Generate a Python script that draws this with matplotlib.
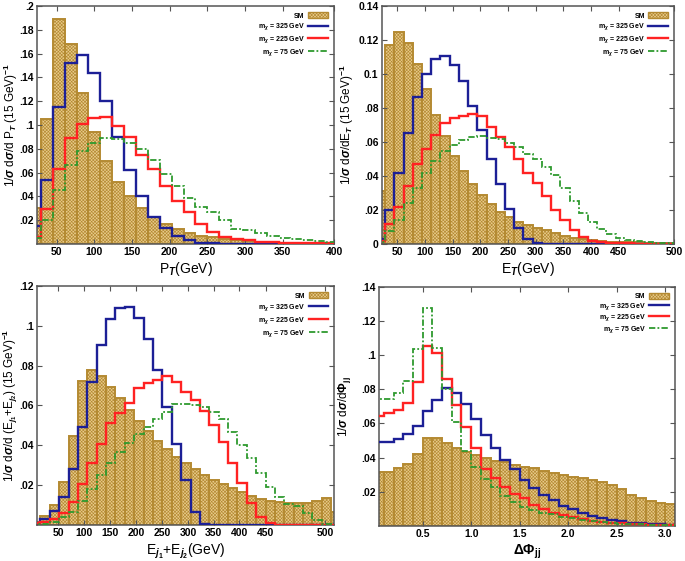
import matplotlib

matplotlib.use("Agg")
import matplotlib.pyplot as plt
import numpy as np
from matplotlib.lines import Line2D
from matplotlib.patches import Patch

# ---- data ----
series_labels = ["SM", r"m$_{\chi}$ = 325 GeV", r"m$_{\chi}$ = 225 GeV", r"m$_{\chi}$ = 75 GeV"]

# missing transverse momentum P_T, 15 GeV bins
pt_edges = np.arange(15, 420, 15)
pt_sm = [.030, .105, .189, .168, .127, .094, .070, .052, .040, .030, .023, .017, .0126,
         .009, .007, .0056, .0045, .0034, .0028, .002, .0015, .0011, .0009, .0007, .0005, .0004]
pt_325 = [.015, .054, .115, .152, .159, .144, .120, .090, .062, .040, .023, .0134, .007,
          .003, .001, .0005, .0003, .0002, .0001, 0, 0, 0, 0, 0, 0, 0]
pt_225 = [.006, .029, .063, .089, .101, .106, .107, .099, .090, .075, .063, .049, .036,
          .027, .017, .010, .006, .004, .003, .002, .0015, .001, .001, .0008, .0006, .0005]
pt_75 = [.005, .020, .045, .066, .078, .085, .089, .088, .085, .0795, .0706, .059, .049,
         .039, .031, .027, .020, .013, .012, .009, .007, .0053, .0042, .0034, .0022, .0017]

# scalar sum E_T, 15 GeV bins
et_edges = np.arange(15, 525, 15)
et_sm = [.031, .117, .125, .118, .106, .091, .076, .0635, .052, .043, .035, .029, .0235,
         .019, .0157, .013, .011, .0096, .0082, .0063, .0047, .0037, .003, .0022, .0018,
         .0014, .0012, .001, .0009, .0008, .0007, .0006, .0005]
et_325 = [.003, .020, .0415, .0655, .0866, .100, .109, .1105, .105, .096, .081, .067, .0498,
          .035, .0204, .0092, .0027, .0005, 0, 0, 0, 0, 0, 0, 0, 0, 0, 0, 0, 0, 0, 0, 0]
et_225 = [.002, .0118, .0216, .034, .047, .0557, .064, .071, .074, .0755, .0762, .075, .069,
          .063, .057, .050, .042, .036, .028, .020, .014, .0085, .004, .002, .001, .0008,
          .0005, .0003, .0002, .0001, 0, 0, 0]
et_75 = [.001, .0078, .014, .024, .033, .042, .049, .0547, .058, .061, .063, .0637, .0625,
         .062, .0596, .057, .053, .050, .0455, .0406, .0327, .0255, .018, .013, .0086, .0057,
         .0037, .0024, .0016, .001, .0008, .0006, .0005]

# E_j1 + E_j2, 15 GeV bins
ej_edges = np.arange(15, 525, 15)
ej_sm = [.0017, .0045, .0099, .0216, .0447, .0725, .078, .0748, .0695, .064, .0577, .052,
         .047, .042, .038, .034, .031, .028, .025, .0226, .0204, .0184, .0164, .0146, .0132,
         .0122, .0117, .0109, .0109, .0112, .0122, .0134, .0067]
ej_325 = [.001, .0028, .0072, .0139, .028, .0494, .0716, .0904, .1034, .1088, .1096, .1038,
          .0932, .078, .0594, .0407, .0226, .0067, .0003, 0, 0, 0, 0, 0, 0, 0, 0, 0, 0, 0,
          0, 0, 0]
ej_225 = [.0008, .0017, .0028, .0059, .0117, .0204, .031, .0407, .0514, .056, .061, .0686,
          .0715, .073, .075, .072, .067, .0628, .0574, .050, .0418, .031, .0213, .0109,
          .0042, .0008, 0, 0, 0, 0, 0, 0, 0]
ej_75 = [.0003, .0005, .0017, .0038, .0067, .0122, .018, .025, .0313, .0368, .0413, .0457,
         .0494, .053, .0569, .0608, .0608, .0603, .0594, .0569, .053, .0469, .0402, .0335,
         .0263, .0192, .0142, .0105, .0095, .0059, .0025, .0005, .0003]

# azimuthal separation of the two jets, 0.1 bins
dphi_edges = np.round(np.arange(0, 3.15, 0.1), 1)
dphi_sm = [.0314, .0318, .0338, .036, .042, .0513, .0513, .0488, .0459, .0435, .0416, .040,
           .0382, .0377, .0357, .0347, .0338, .0324, .0312, .0298, .0289, .0279, .0269,
           .0256, .024, .0215, .0181, .0162, .0148, .0133, .0129]
dphi_325 = [.0494, .0494, .051, .0539, .0587, .067, .0738, .0806, .078, .0714, .0624, .0533,
            .0455, .0386, .0332, .027, .022, .018, .0152, .0117, .0098, .0074, .0059, .0045,
            .0035, .0027, .002, .0016, .0012, .001, .0008]
dphi_225 = [.0644, .0663, .0679, .0722, .0845, .1054, .101, .086, .0708, .0581, .0455, .0332,
            .0279, .023, .0185, .0162, .0123, .0098, .0078, .0064, .005, .0041, .0031, .0023,
            .002, .0016, .0012, .001, .0008, .0006, .0005]
dphi_75 = [.0743, .0743, .0777, .085, .1034, .1274, .104, .0802, .0611, .0441, .0347, .0275,
           .0226, .0176, .0142, .0113, .0094, .0078, .0068, .0055, .0045, .0035, .0027,
           .0021, .0017, .0014, .0011, .0009, .0007, .0006, .0005]

# tick labels as printed in the figure
pt_xticks = [50, 97.5, 145, 192.5, 240, 287.5, 335, 400]
pt_xlabels = ["50", "100", "150", "200", "250", "300", "350", "400"]
et_xticks = [50, 95, 140, 185, 230, 275, 320, 365, 410, 500]
ej_xticks = [58, 100, 141, 183, 224, 266, 307, 348, 390, 485]
e_xlabels = ["50", "100", "150", "200", "250", "300", "350", "400", "450", "500"]
dphi_xticks = [0.5, 1.0, 1.5, 2.0, 2.5, 3.0]
dphi_xlabels = ["0.5", "1.0", "1.5", "2.0", "2.5", "3.0"]

pt_yticks = [.02, .04, .06, .08, .1, .12, .14, .16, .18, .2]
pt_ylabels = [".02", ".04", ".06", ".08", ".1", ".12", ".14", ".16", ".18", ".2"]
et_yticks = [0, .02, .04, .06, .08, .1, .12, .14]
et_ylabels = ["0", ".02", ".04", ".06", ".08", "0.1", "0.12", "0.14"]
ej_yticks = [.02, .04, .06, .08, .1, .12]
ej_ylabels = [".02", ".04", ".06", ".08", ".1", ".12"]
dphi_yticks = [.02, .04, .06, .08, .1, .12, .14]
dphi_ylabels = [".02", ".04", ".06", ".08", ".1", ".12", ".14"]

# ---- style ----
SM_FACE = "#e8ca8a"
SM_EDGE = "#b48a32"
SM_HATCH = "x" * 10
LINE_STYLES = [
    dict(color="#1c1f96", lw=1.7, ls="-"),
    dict(color="#ff2222", lw=1.7, ls="-"),
    dict(color="#2e9a2e", lw=1.3, ls=(0, (3.5, 1.2, 1, 1.2))),
]
FRAME = "#555555"

plt.rcParams["font.family"] = ["Liberation Sans", "DejaVu Sans"]
plt.rcParams["font.weight"] = "bold"
plt.rcParams["mathtext.fontset"] = "custom"
plt.rcParams["mathtext.rm"] = "Liberation Sans:bold"
plt.rcParams["mathtext.it"] = "Liberation Sans:italic:bold"
plt.rcParams["mathtext.bf"] = "Liberation Sans:bold"
plt.rcParams["hatch.linewidth"] = 0.45


def draw_panel(ax, edges, sm, sig, xlim, ylim, xticks, xlabels, yticks, ylabels,
               xlabel, ylabel, ylabel_x, legend_spacing):
    widths = np.diff(edges)
    ax.bar(edges[:-1], sm, width=widths, align="edge", facecolor=SM_FACE,
           edgecolor=SM_EDGE, hatch=SM_HATCH, linewidth=1.4, zorder=1)
    for vals, style in zip(sig, LINE_STYLES):
        ax.stairs(vals, edges, zorder=3, **style)

    ax.set_xlim(*xlim)
    ax.set_ylim(*ylim)
    ax.set_xticks(xticks, xlabels)
    ax.set_yticks(yticks, ylabels)
    ax.tick_params(direction="in", top=True, right=True, length=3.5, width=0.8,
                   color=FRAME, labelsize=7.5, pad=2.5)
    for sp in ax.spines.values():
        sp.set_color(FRAME)
        sp.set_linewidth(1.1)

    ax.set_xlabel(xlabel, fontsize=10, labelpad=2)
    ax.set_ylabel(ylabel, fontsize=8.5)
    ax.yaxis.set_label_coords(ylabel_x, 0.5)

    handles = [Patch(facecolor=SM_FACE, edgecolor=SM_EDGE, hatch=SM_HATCH, linewidth=1.0)]
    handles += [Line2D([], [], **s) for s in LINE_STYLES]
    ax.legend(handles, series_labels, loc="upper right", markerfirst=False, frameon=False,
              fontsize=5, handlelength=2.8, handleheight=0.9, handletextpad=0.5,
              labelspacing=legend_spacing, borderaxespad=0.0, borderpad=0.9)


def main() -> None:
    fig = plt.figure(figsize=(6.85, 5.61), dpi=100)

    ax1 = fig.add_axes([0.0540, 0.5651, 0.4336, 0.4242])
    draw_panel(ax1, pt_edges, pt_sm, [pt_325, pt_225, pt_75], (25, 400), (0, 0.2),
               pt_xticks, pt_xlabels, pt_yticks, pt_ylabels,
               r"P$_{T}$(GeV)", r"1/$\sigma$ d$\sigma$/d P$_{T}$ (15 GeV)$^{-1}$",
               -0.058, 0.3)

    ax2 = fig.add_axes([0.5577, 0.5651, 0.4263, 0.4242])
    draw_panel(ax2, et_edges, et_sm, [et_325, et_225, et_75], (25, 500), (0, 0.14),
               et_xticks, e_xlabels, et_yticks, et_ylabels,
               r"E$_{T}$(GeV)", r"1/$\sigma$ d$\sigma$/dE$_{T}$ (15 GeV)$^{-1}$",
               -0.09, 0.3)

    ax3 = fig.add_axes([0.0545, 0.0642, 0.4336, 0.4260])
    draw_panel(ax3, ej_edges, ej_sm, [ej_325, ej_225, ej_75], (25, 500), (0, 0.12),
               ej_xticks, e_xlabels, ej_yticks, ej_ylabels,
               r"E$_{j_1}$+E$_{j_2}$(GeV)",
               r"1/$\sigma$ d$\sigma$/d (E$_{j_1}$+E$_{j_2}$) (15 GeV)$^{-1}$",
               -0.058, 0.35)

    ax4 = fig.add_axes([0.5533, 0.0624, 0.4321, 0.4266])
    draw_panel(ax4, dphi_edges, dphi_sm, [dphi_325, dphi_225, dphi_75], (0.05, 3.1), (0, 0.14),
               dphi_xticks, dphi_xlabels, dphi_yticks, dphi_ylabels,
               r"$\Delta\Phi_{\mathrm{jj}}$", r"1/$\sigma$ d$\sigma$/d$\Phi_{\mathrm{jj}}$",
               -0.088, 0.1)

    fig.savefig("out.png", dpi=100)


if __name__ == "__main__":
    main()
